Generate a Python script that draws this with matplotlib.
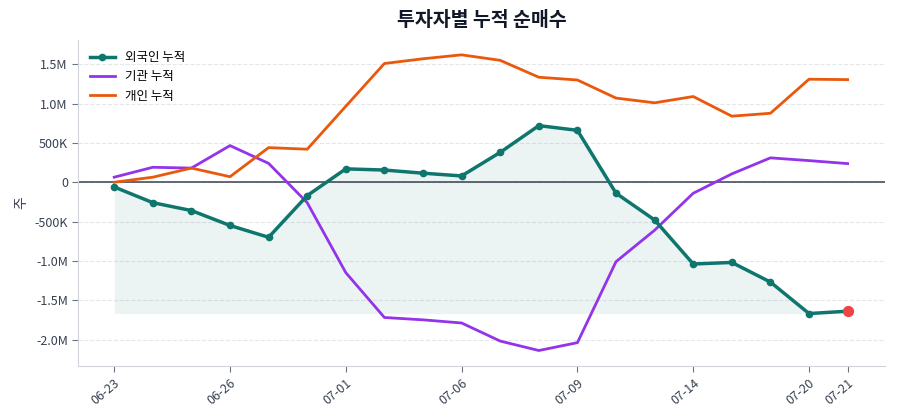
import matplotlib
matplotlib.use("Agg")
from matplotlib import pyplot as plt
from matplotlib.ticker import FuncFormatter
from matplotlib.transforms import ScaledTranslation
import numpy as np

plt.rcParams['font.family'] = ['Noto Sans CJK KR', 'DejaVu Sans']

dates = ["06-23", "06-24", "06-25", "06-26", "06-27", "06-30", "07-01", "07-02",
         "07-03", "07-06", "07-07", "07-08", "07-09", "07-10", "07-11", "07-14",
         "07-15", "07-16", "07-20", "07-21"]
tick_labels = ["06-23", "06-26", "07-01", "07-06", "07-09", "07-14", "07-20", "07-21"]

foreign = [-0.06, -0.26, -0.36, -0.55, -0.70, -0.17, 0.17, 0.155, 0.115, 0.08,
           0.38, 0.72, 0.66, -0.14, -0.48, -1.04, -1.02, -1.27, -1.67, -1.64]
institution = [0.064, 0.19, 0.18, 0.466, 0.24, -0.26, -1.15, -1.72, -1.75, -1.79,
               -2.02, -2.14, -2.04, -1.01, -0.61, -0.14, 0.106, 0.31, 0.275, 0.237]
individual = [0.0, 0.064, 0.18, 0.07, 0.44, 0.42, 0.966, 1.51, 1.57, 1.62,
              1.55, 1.335, 1.30, 1.07, 1.01, 1.09, 0.84, 0.877, 1.31, 1.305]

foreign = np.array(foreign) * 1e6
institution = np.array(institution) * 1e6
individual = np.array(individual) * 1e6
x = np.arange(len(dates))


def fmt(v, _):
    if v == 0:
        return "0"
    if abs(v) >= 1e6:
        return f"{v / 1e6:.1f}M"
    return f"{v / 1e3:.0f}K"


fig, ax = plt.subplots(figsize=(9, 4.2), dpi=100)
fig.subplots_adjust(left=0.087, right=0.983, top=0.905, bottom=0.128)

ax.fill_between(x, foreign, foreign.min(), color='#0f766e', alpha=0.08, linewidth=0)
ax.axhline(0, color='#374151', linewidth=1.1, zorder=2)
ax.plot(x, foreign, color='#0f766e', linewidth=2.5, marker='o', markersize=4.5,
        label='외국인 누적', zorder=4)
ax.plot(x, institution, color='#9333ea', linewidth=2, label='기관 누적', zorder=3)
ax.plot(x, individual, color='#ea580c', linewidth=2, label='개인 누적', zorder=3)
ax.scatter([x[-1]], [foreign[-1]], color='#ef4444', s=50, zorder=5)

ax.set_title('투자자별 누적 순매수', fontsize=14, fontweight='bold', color='#111827', pad=10)
ax.set_ylabel('주', fontsize=10, color='#374151')
ax.yaxis.set_major_formatter(FuncFormatter(fmt))
ax.set_yticks([-2e6, -1.5e6, -1e6, -5e5, 0, 5e5, 1e6, 1.5e6])
ax.set_ylim(-2.34e6, 1.81e6)
ax.set_xlim(-0.93, 19.96)

tick_pos = [dates.index(t) for t in tick_labels]
ax.set_xticks(tick_pos)
ax.set_xticklabels(tick_labels, rotation=40, ha='right', rotation_mode='anchor')
shift = ScaledTranslation(-3 / 100, 0, fig.dpi_scale_trans)
for lbl in ax.get_xticklabels():
    lbl.set_transform(lbl.get_transform() + shift)

ax.grid(axis='y', linestyle='--', color='#e5e7eb', linewidth=0.8)
ax.set_axisbelow(True)
for s in ['top', 'right']:
    ax.spines[s].set_visible(False)
for s in ['left', 'bottom']:
    ax.spines[s].set_color('#d1d5db')
ax.tick_params(colors='#374151', labelsize=9, length=4)
ax.tick_params(axis='both', color='#6b7280')

ax.legend(loc='upper left', frameon=False, fontsize=9)

fig.savefig('out.png')
